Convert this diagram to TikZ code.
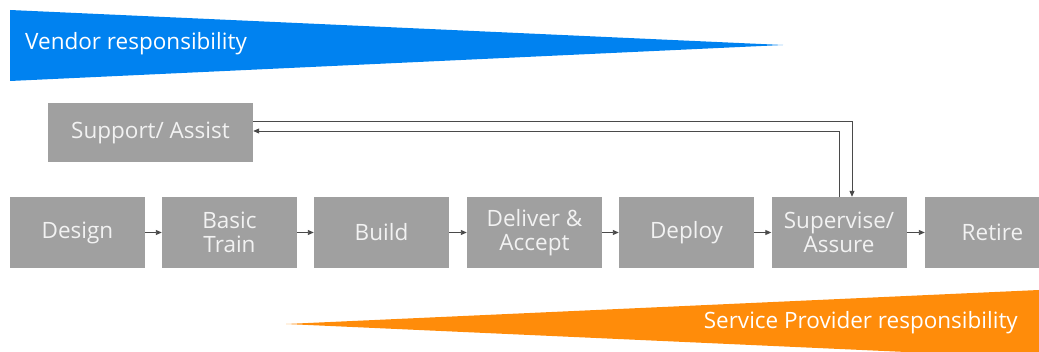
\documentclass[tikz,border=0pt]{standalone}
\usepackage{fontspec}
\setmainfont{Open Sans}
\usetikzlibrary{arrows.meta}
\definecolor{vblue}{HTML}{0082F0}
\definecolor{sporange}{HTML}{FF8C0A}
\definecolor{boxgray}{HTML}{A0A0A0}
\definecolor{linegray}{HTML}{4A4A4A}
\tikzset{
  stepbox/.style={fill=boxgray, text=white!95!black, minimum width=135pt, minimum height=71pt, inner sep=0pt, align=center, font=\fontsize{22.5}{24}\selectfont},
  flow/.style={draw=linegray, line width=0.9pt, -{Triangle[length=6pt,width=5pt]}},
  bandtext/.style={text=white, font=\fontsize{22.5}{24}\selectfont, inner sep=0pt}
}
\begin{document}
\begin{tikzpicture}[x=1pt,y=-1pt]
\useasboundingbox (0,0) rectangle (1039,352);
\begin{scope}
\clip (0,0) rectangle (1039,352);
% vendor band
\fill[vblue] (10,10) -- (783,45) -- (10,81) -- cycle;
\node[bandtext, anchor=west] (vend) at (25,44) {Vendor responsibility};
% service provider band
\fill[sporange] (286,324) -- (1039,290) -- (1039,358) -- cycle;
\node[bandtext, anchor=east] (spr) at (1018,323) {Service Provider responsibility};
% support box
\node[stepbox, minimum width=205pt, minimum height=59pt] (sup) at (150.5,132.5) {Support/ Assist};
% flow boxes
\node[stepbox] (design) at (77.5,232.5) {Design};
\node[stepbox] (basic) at (229.5,232.5) {Basic\\Train};
\node[stepbox] (build) at (381.5,232.5) {Build};
\node[stepbox] (deliver) at (534.5,232.5) {Deliver \&\\Accept};
\node[stepbox] (deploy) at (686.5,232.5) {Deploy};
\node[stepbox] (superv) at (839,232.5) {Supervise/\\Assure};
\node[stepbox] (retire) at (992.5,232.5) {Retire};
\end{scope}
% connectors
\draw[flow] (design) -- (basic);
\draw[flow] (basic) -- (build);
\draw[flow] (build) -- (deliver);
\draw[flow] (deliver) -- (deploy);
\draw[flow] (deploy) -- (superv);
\draw[flow] (superv) -- (retire);
\draw[flow] ([yshift=11.5pt]sup.east) -| ([xshift=13pt]superv.north);
\draw[flow] (superv.north) |- ([yshift=1.5pt]sup.east);
\end{tikzpicture}
\end{document}
